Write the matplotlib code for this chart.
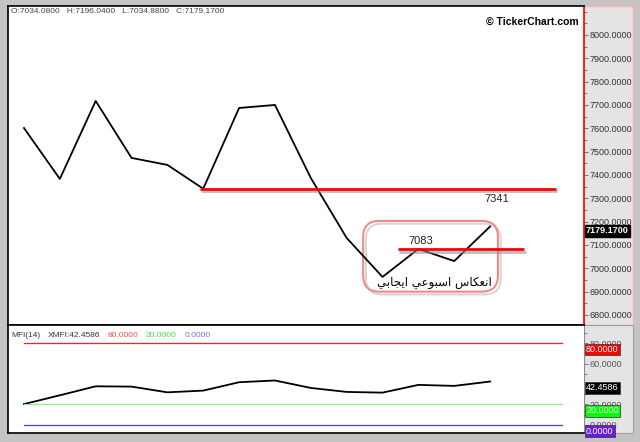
import numpy as np
import matplotlib
matplotlib.use('Agg')
import matplotlib.pyplot as plt
import matplotlib.patheffects as pe
from matplotlib.patches import Rectangle, FancyBboxPatch
from matplotlib.ticker import MultipleLocator, FormatStrFormatter

# price closes (weekly)
close = [7601, 7383, 7717, 7473, 7443, 7341, 7687, 7700, 7387, 7130, 6963, 7083, 7031, 7179.17]
# MFI(14)
mfi = [20.4, 29.0, 37.8, 37.5, 31.9, 33.6, 41.8, 43.5, 36.2, 32.3, 31.6, 39.2, 38.2, 42.4586]
mfi_levels = [80, 20, 0]
mfi_colors = ['#ff2020', '#90ee90', '#5a3fb0']

# drawn support lines: (start index, end index, level)
support1 = (4.91, 14.84, 7341)
support2 = (10.43, 13.95, 7083)

price_ticks = np.arange(6800, 8001, 100)
header = 'O:7034.0800   H:7196.0400   L:7034.8800   C:7179.1700'
arabic = '\ufef2\ufe91\ufe8e\ufea0\ufef3\ufe8d \ufef2\ufecb\ufeee\ufe92\ufeb3\ufe8d \ufeb1\ufe8e\ufedc\ufecc\ufee7\ufe8d'

plt.rcParams['font.family'] = ['Liberation Sans', 'DejaVu Sans']

fig = plt.figure(figsize=(6.4, 4.42), dpi=100)
fig.patch.set_facecolor('#c4c4c4')

W, H = 640., 442.
ax = fig.add_axes([8/W, 1-325/H, 576/W, 319/H])
ax2 = fig.add_axes([8/W, 1-433/H, 576/W, 108/H])

# gray scale panels on the right
fig.add_artist(Rectangle((584/W, 1-325/H), 49/W, 319/H, transform=fig.transFigure,
                         facecolor='#e4e4e4', edgecolor='#ffb0b0', lw=1, zorder=-1))
fig.add_artist(Rectangle((584/W, 1-433/H), 49/W, 108/H, transform=fig.transFigure,
                         facecolor='#e4e4e4', edgecolor='#a0a0a0', lw=0.8, zorder=-1))

x = np.arange(len(close))
ax.plot(x, close, color='black', lw=1.3)

shadow = [pe.SimpleLineShadow(offset=(1, -2), shadow_color='#909090', alpha=0.6), pe.Normal()]
for s in [support1, support2]:
    ax.plot([s[0], s[1]], [s[2], s[2]], color='red', lw=2, path_effects=shadow, solid_capstyle='butt')

ax.text(13.19, 7297, '7341', fontsize=8, ha='center', va='center', color='#222')
ax.text(11.07, 7117, '7083', fontsize=8, ha='center', va='center', color='#222')

# rounded highlight box
xr = 35.85 / 0.2333
box = FancyBboxPatch((9.46, 6900), 13.22 - 9.46, 7203 - 6900,
                     boxstyle='round,pad=0,rounding_size=0.45', mutation_aspect=xr,
                     facecolor='none', edgecolor='#f08a8a', lw=1.5,
                     path_effects=[pe.SimpleLineShadow(offset=(2, -2), shadow_color='#999999', alpha=0.4), pe.Normal()])
ax.add_patch(box)
ax.text(11.46, 6937, arabic, fontsize=8.5, ha='center', va='center', family='DejaVu Sans')

ax.set_xlim(-0.446, 15.62)
ax.set_ylim(6757, 8124)
ax.set_xticks([])
ax.yaxis.tick_right()
ax.set_yticks(price_ticks)
ax.yaxis.set_major_formatter(FormatStrFormatter('%.4f'))
ax.yaxis.set_minor_locator(MultipleLocator(50))
ax.tick_params(axis='y', which='major', length=3, width=0.6, color='#666', labelsize=6.5, labelcolor='#333', pad=1)
ax.tick_params(axis='y', which='minor', length=2, width=0.6, color='#666')
for sp in ['left', 'top', 'bottom']:
    ax.spines[sp].set_color('black')
    ax.spines[sp].set_linewidth(1.2)
ax.spines['right'].set_color('red')
ax.spines['right'].set_linewidth(1.2)

ax.text(0.006, 0.983, header, transform=ax.transAxes, fontsize=6, color='#444', va='center')
ax.text(0.990, 0.95, '\u00a9 TickerChart.com', transform=ax.transAxes, fontsize=7.5,
        fontweight='bold', ha='right', va='center', color='black')

ax.annotate('7179.1700', xy=(1.0, close[-1]), xycoords=('axes fraction', 'data'),
            xytext=(1.5, -3), textcoords='offset points', ha='left', va='center',
            fontsize=6.5, fontweight='bold', color='white',
            bbox=dict(boxstyle='square,pad=0.15', facecolor='black', edgecolor='black'))

# MFI panel
ax2.plot(x, mfi, color='black', lw=1.3)
for lv, c in zip(mfi_levels, mfi_colors):
    ax2.plot([0, 15], [lv, lv], color=c, lw=0.9)
ax2.set_xlim(-0.446, 15.62)
ax2.set_ylim(-7.9, 97.8)
ax2.set_xticks([])
ax2.yaxis.tick_right()
ax2.set_yticks([0, 20, 60, 80])
ax2.yaxis.set_major_formatter(FormatStrFormatter('%.4f'))
ax2.yaxis.set_minor_locator(MultipleLocator(10))
ax2.tick_params(axis='y', which='major', length=3, width=0.6, color='#666', labelsize=6.5, labelcolor='#555', pad=1)
ax2.tick_params(axis='y', which='minor', length=2, width=0.6, color='#666')
for sp in ax2.spines.values():
    sp.set_color('black')
    sp.set_linewidth(1.2)
ax2.spines['right'].set_color('#888')
ax2.spines['right'].set_linewidth(0.6)

hdr = [('MFI(14)', '#333', 11), ('XMFI:42.4586', '#333', 48), ('80.0000', '#ff5050', 108),
       ('20.0000', '#40e040', 146), ('0.0000', '#8a6ae0', 185)]
for t, c, px in hdr:
    ax2.text((px - 8) / 576., 0.9, t, transform=ax2.transAxes, fontsize=6, color=c, va='center')

box_items = [('80.0000', 80, '#ff0000', 'white'), ('42.4586', mfi[-1], 'black', 'white'),
             ('20.0000', 20, '#00ff00', 'white'), ('0.0000', 0, '#6a1ad8', 'white')]
for t, v, fc, tc in box_items:
    ax2.annotate(t, xy=(1.0, v), xycoords=('axes fraction', 'data'),
                 xytext=(1.5, -4.5), textcoords='offset points', ha='left', va='center',
                 fontsize=6.5, color=tc, annotation_clip=False,
                 bbox=dict(boxstyle='square,pad=0.15', facecolor=fc, edgecolor='#333', lw=0.5))

fig.savefig('out.png', dpi=100, facecolor=fig.get_facecolor())
